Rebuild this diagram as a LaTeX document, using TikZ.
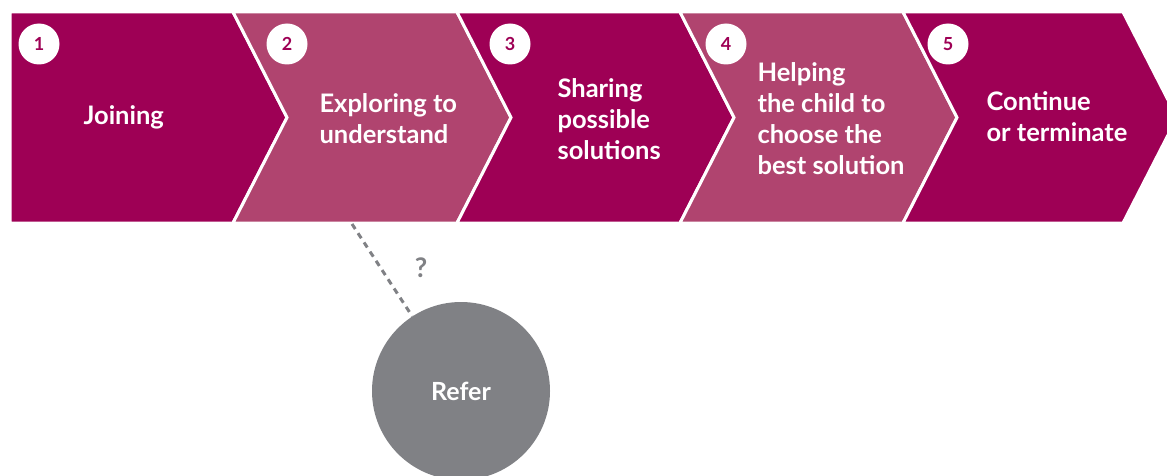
\documentclass[tikz,border=0pt]{standalone}
\usepackage{fontspec}
\setmainfont{Lato}
\usetikzlibrary{positioning}

\definecolor{plum}{HTML}{9E0055}
\definecolor{lightplum}{HTML}{B0446F}
\definecolor{refergray}{HTML}{808185}

\tikzset{
    chevron/.style={draw=white, line width=3pt, line join=miter},
    numdot/.style={circle, fill=white, minimum size=41pt, inner sep=0pt,
        text=plum, font=\fontsize{18}{18}\selectfont\bfseries},
    steptext/.style={anchor=west, align=left, text=white,
        font=\fontsize{25.5}{31}\selectfont\bfseries},
    referdot/.style={circle, fill=refergray, minimum size=178pt, inner sep=0pt,
        text=white, font=\fontsize{25}{25}\selectfont\bfseries},
    maybe/.style={refergray, line width=3pt, dash pattern=on 6pt off 5pt}
}

\begin{document}
\begin{tikzpicture}[x=1pt,y=-1pt]
\useasboundingbox (0,0) rectangle (1167,476);
\clip (0,0) rectangle (1167,476);

    % the five steps
    \filldraw [chevron, fill=plum] (10,12) -- (233,12) -- (287,117.5) -- (233,223) -- (10,223) -- cycle;
    \filldraw [chevron, fill=lightplum] (233,12) -- (457,12) -- (511,117.5) -- (457,223) -- (233,223) -- (287,117.5) -- cycle;
    \filldraw [chevron, fill=plum] (457,12) -- (680,12) -- (734,117.5) -- (680,223) -- (457,223) -- (511,117.5) -- cycle;
    \filldraw [chevron, fill=lightplum] (680,12) -- (903,12) -- (957,117.5) -- (903,223) -- (680,223) -- (734,117.5) -- cycle;
    \filldraw [chevron, fill=plum] (903,12) -- (1123,12) -- (1177,117.5) -- (1123,223) -- (903,223) -- (957,117.5) -- cycle;

    \node [numdot] (n1) at (39,44) {1};
    \node [numdot] (n2) at (287,44) {2};
    \node [numdot] (n3) at (510,44) {3};
    \node [numdot] (n4) at (726,44) {4};
    \node [numdot] (n5) at (948,44) {5};

    \node [steptext] (t1) at (80,117) {Joining};
    \node [steptext] (t2) at (316,119) {Exploring to\\understand};
    \node [steptext] (t3) at (554,119) {Sharing\\possible\\solutions};
    \node [steptext] (t4) at (754,119) {Helping\\the child to\\choose the\\best solution};
    \node [steptext] (t5) at (983,117) {Continue\\or terminate};

    % side path
    \node [referdot] (refer) at (461,391) {Refer};
    \coordinate (drop) at (352,224);
    \draw [maybe] (drop) -- (refer);
    \node [text=refergray, font=\fontsize{27}{27}\selectfont\bfseries] (ask) at (421,268) {?};

\end{tikzpicture}
\end{document}
